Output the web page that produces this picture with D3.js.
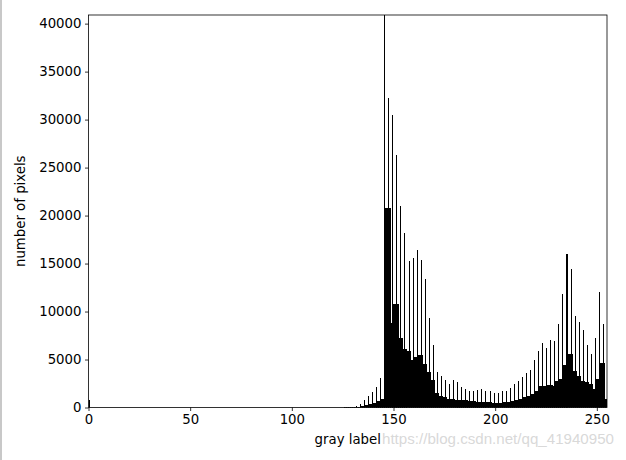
<!DOCTYPE html>
<html><head><meta charset="utf-8">
<script src="https://cdn.jsdelivr.net/npm/d3@7"></script>
<style>
body{margin:0;background:#fff;}
svg{display:block;font-family:"DejaVu Sans",sans-serif;}
</style>
</head><body>
<svg id="chart" width="626" height="460"></svg>
<script>
// Pixel count per gray level 0..255
const counts = [
  800,0,0,0,0,0,0,0,0,0,0,0,0,0,0,0,
  0,0,0,0,0,0,0,0,0,0,0,0,0,0,0,0,
  0,0,0,0,0,0,0,0,0,0,0,0,0,0,0,0,
  0,0,0,0,0,0,0,0,0,0,0,0,0,0,0,0,
  0,0,0,0,0,0,0,0,0,0,0,0,0,0,0,0,
  0,0,0,0,0,0,0,0,0,0,0,0,0,0,0,0,
  0,0,0,0,0,0,0,0,0,0,0,0,0,0,0,0,
  0,0,0,0,0,0,0,0,0,0,0,0,0,0,10,10,
  40,20,80,40,150,80,350,150,730,250,1200,350,1600,500,2150,700,
  3100,900,40900,20750,32300,8800,30500,10800,26300,7200,20950,6050,18200,5900,15250,4900,
  15600,5300,16380,5450,15350,4560,13430,3690,9300,2820,6470,1550,3700,1250,3250,1050,
  2870,900,2500,900,2850,800,2650,800,2120,730,1950,660,1700,650,1700,600,
  1840,600,1880,580,1740,560,1670,520,1500,500,1560,520,1700,560,1770,600,
  2050,700,2430,800,2780,900,3230,1050,3600,1180,3930,1430,4900,1770,5840,2190,
  6710,2190,6230,2370,6990,2260,6890,2710,8730,2990,11790,4450,16040,5530,14470,3790,
  9570,3270,8900,2710,8110,2640,6470,2400,5600,1950,7270,2990,12030,4620,8660,900
];
const xTicks = [0, 50, 100, 150, 200, 250];
const yTicks = [0, 5000, 10000, 15000, 20000, 25000, 30000, 35000, 40000];
const xLabel = "gray label";
const yLabel = "number of pixels";
const watermark = "https://blog.csdn.net/qq_41940950";

const L = 88.5, R = 607, T = 15, B = 407.5;
const svg = d3.select("#chart");

// screenshot frame on the left edge
svg.append("line").attr("x1",1).attr("x2",1).attr("y1",0).attr("y2",460)
  .attr("stroke","#c8c8c8").attr("stroke-width",2);

const x = d3.scaleLinear().domain([0, 255]).range([L, R]);
const y = d3.scaleLinear().domain([0, d3.max(counts)]).range([B, T]);
const binW = 255 / counts.length;

svg.append("clipPath").attr("id","plot").append("rect")
  .attr("x",L).attr("y",T).attr("width",R-L).attr("height",B-T);

const bars = svg.append("g").attr("clip-path","url(#plot)")
  .attr("shape-rendering","crispEdges");

const data = counts.map((v,i)=>({i, v,
  prev: i>0 ? counts[i-1] : 0,
  next: i<counts.length-1 ? counts[i+1] : 0}));

// full-width base bars (spikes capped at neighbour level)
bars.selectAll("rect.base").data(data).join("rect").attr("class","base")
  .attr("x", d=>x(d.i*binW))
  .attr("width", d=>x((d.i+1)*binW)-x(d.i*binW)+0.4)
  .attr("y", d=>y(Math.min(d.v, Math.max(d.prev,d.next))))
  .attr("height", d=>y(0)-y(Math.min(d.v, Math.max(d.prev,d.next))))
  .attr("fill","#000");

// narrow full-height bars
bars.selectAll("rect.top").data(data.filter(d=>d.v>0)).join("rect").attr("class","top")
  .attr("x", d=>x(d.i*binW))
  .attr("width", d=>(x((d.i+1)*binW)-x(d.i*binW))/2)
  .attr("y", d=>y(d.v))
  .attr("height", d=>y(0)-y(d.v))
  .attr("fill","#000");

// axes
const fs = "13.3px";
const xAxis = svg.append("g").attr("transform",`translate(0,${B})`)
  .call(d3.axisBottom(x).tickValues(xTicks).tickSize(3.5).tickPadding(3.5).tickFormat(d3.format("d")));
const yAxis = svg.append("g").attr("transform",`translate(${L},0)`)
  .call(d3.axisLeft(y).tickValues(yTicks).tickSize(3.5).tickPadding(3.5).tickFormat(d3.format("d")));
[xAxis,yAxis].forEach(a=>{
  a.select(".domain").remove();
  a.selectAll("text").attr("font-size",fs).attr("font-family","DejaVu Sans").attr("fill","#000");
  a.selectAll("line").attr("stroke","#000").attr("stroke-width",0.8);
});

// frame
svg.append("rect").attr("x",L).attr("y",T).attr("width",R-L).attr("height",B-T)
  .attr("fill","none").attr("stroke","#000").attr("stroke-width",0.8);

// labels
svg.append("text").attr("x",(L+R)/2).attr("y",444).attr("text-anchor","middle")
  .attr("font-size",fs).attr("fill","#000").text(xLabel);
svg.append("text").attr("transform",`translate(25,${(T+B)/2}) rotate(-90)`)
  .attr("text-anchor","middle").attr("font-size",fs).attr("fill","#000").text(yLabel);

// watermark
svg.append("text").attr("x",382).attr("y",444)
  .attr("font-family","Liberation Sans, Arial, sans-serif").attr("font-size","15px")
  .attr("textLength",232).attr("lengthAdjust","spacingAndGlyphs")
  .attr("fill","#d4d4d4").attr("fill-opacity",0.9).text(watermark);
</script>
</body></html>
